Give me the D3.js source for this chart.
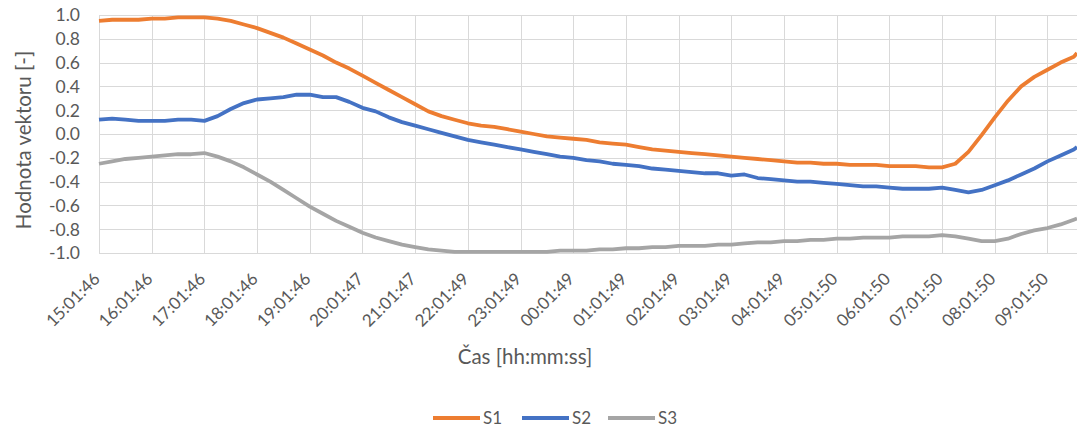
<!DOCTYPE html>
<html>
<head>
<meta charset="utf-8">
<script src="https://cdn.jsdelivr.net/npm/d3@7"></script>
<style>
  body { margin: 0; background: #fff; }
  svg { display: block; }
  text { font-family: Lato, "Open Sans", sans-serif; fill: #595959; }
</style>
</head>
<body>
<div id="chart"></div>
<script>
// hours since 15:01:46
const hours = [0, 0.25, 0.5, 0.75, 1, 1.25, 1.5, 1.75, 2, 2.25, 2.5, 2.75, 3, 3.25, 3.5, 3.75,
    4, 4.25, 4.5, 4.75, 5, 5.25, 5.5, 5.75, 6, 6.25, 6.5, 6.75, 7, 7.25, 7.5, 7.75,
    8, 8.25, 8.5, 8.75, 9, 9.25, 9.5, 9.75, 10, 10.25, 10.5, 10.75, 11, 11.25, 11.5, 11.75,
    12, 12.25, 12.5, 12.75, 13, 13.25, 13.5, 13.75, 14, 14.25, 14.5, 14.75, 15, 15.25, 15.5, 15.75,
    16, 16.25, 16.5, 16.75, 17, 17.25, 17.5, 17.75, 18, 18.25, 18.5, 18.56];

const s1 = [0.95, 0.96, 0.96, 0.96, 0.97, 0.97, 0.98, 0.98, 0.98, 0.97, 0.95, 0.92, 0.89, 0.85, 0.81, 0.76,
    0.71, 0.66, 0.60, 0.55, 0.49, 0.43, 0.37, 0.31, 0.25, 0.19, 0.15, 0.12, 0.09, 0.07, 0.06, 0.04,
    0.02, 0.00, -0.02, -0.03, -0.04, -0.05, -0.07, -0.08, -0.09, -0.11, -0.13, -0.14, -0.15, -0.16, -0.17, -0.18,
    -0.19, -0.20, -0.21, -0.22, -0.23, -0.24, -0.24, -0.25, -0.25, -0.26, -0.26, -0.26, -0.27, -0.27, -0.27, -0.28,
    -0.28, -0.25, -0.15, -0.01, 0.14, 0.28, 0.40, 0.48, 0.54, 0.60, 0.65, 0.68];

const s2 = [0.12, 0.13, 0.12, 0.11, 0.11, 0.11, 0.12, 0.12, 0.11, 0.15, 0.21, 0.26, 0.29, 0.30, 0.31, 0.33,
    0.33, 0.31, 0.31, 0.27, 0.22, 0.19, 0.14, 0.10, 0.07, 0.04, 0.01, -0.02, -0.05, -0.07, -0.09, -0.11,
    -0.13, -0.15, -0.17, -0.19, -0.20, -0.22, -0.23, -0.25, -0.26, -0.27, -0.29, -0.30, -0.31, -0.32, -0.33, -0.33,
    -0.35, -0.34, -0.37, -0.38, -0.39, -0.40, -0.40, -0.41, -0.42, -0.43, -0.44, -0.44, -0.45, -0.46, -0.46, -0.46,
    -0.45, -0.47, -0.49, -0.47, -0.43, -0.39, -0.34, -0.29, -0.23, -0.18, -0.13, -0.11];

const s3 = [-0.25, -0.23, -0.21, -0.20, -0.19, -0.18, -0.17, -0.17, -0.16, -0.19, -0.23, -0.28, -0.34, -0.40, -0.47, -0.54,
    -0.61, -0.67, -0.73, -0.78, -0.83, -0.87, -0.90, -0.93, -0.95, -0.97, -0.98, -0.99, -0.99, -0.99, -0.99, -0.99,
    -0.99, -0.99, -0.99, -0.98, -0.98, -0.98, -0.97, -0.97, -0.96, -0.96, -0.95, -0.95, -0.94, -0.94, -0.94, -0.93,
    -0.93, -0.92, -0.91, -0.91, -0.90, -0.90, -0.89, -0.89, -0.88, -0.88, -0.87, -0.87, -0.87, -0.86, -0.86, -0.86,
    -0.85, -0.86, -0.88, -0.90, -0.90, -0.88, -0.84, -0.81, -0.79, -0.76, -0.72, -0.71];

const tickHours = [0, 1, 2, 3, 4, 5, 6, 7, 8, 9, 10, 11, 12, 13, 14, 15, 16, 17, 18];
const tickLabels = ["15:01:46", "16:01:46", "17:01:46", "18:01:46", "19:01:46", "20:01:47", "21:01:47",
    "22:01:49", "23:01:49", "00:01:49", "01:01:49", "02:01:49", "03:01:49", "04:01:49",
    "05:01:50", "06:01:50", "07:01:50", "08:01:50", "09:01:50"];
const yTicks = [1.0, 0.8, 0.6, 0.4, 0.2, 0.0, -0.2, -0.4, -0.6, -0.8, -1.0];

const seriesNames = ["S1", "S2", "S3"];
const seriesValues = [s1, s2, s3];
const colors = ["#ED7D31", "#4472C4", "#A5A5A5"];

const W = 1077, H = 430;
const svg = d3.select("#chart").append("svg")
    .attr("width", W)
    .attr("height", H);

const x = d3.scaleLinear().domain([0, 18.56]).range([99, 1077]);
const y = d3.scaleLinear().domain([-1, 1]).range([253, 15]);

// gridlines
svg.append("g")
    .selectAll("line")
    .data(yTicks)
    .enter().append("line")
    .attr("x1", 99).attr("x2", W)
    .attr("y1", d => Math.round(y(d)) + 0.5)
    .attr("y2", d => Math.round(y(d)) + 0.5)
    .attr("stroke", "#d9d9d9");

svg.append("g")
    .selectAll("line")
    .data(tickHours)
    .enter().append("line")
    .attr("x1", d => Math.round(x(d)) + 0.5)
    .attr("x2", d => Math.round(x(d)) + 0.5)
    .attr("y1", 15).attr("y2", 253)
    .attr("stroke", "#d9d9d9");

// y tick labels
svg.append("g")
    .selectAll("text")
    .data(yTicks)
    .enter().append("text")
    .attr("x", 80)
    .attr("y", d => y(d))
    .attr("dy", "0.36em")
    .attr("text-anchor", "end")
    .style("font-size", "17.5px")
    .text(d => d3.format(".1f")(d).replace("−", "-"));

// x tick labels, rotated
svg.append("g")
    .selectAll("text")
    .data(tickHours)
    .enter().append("text")
    .attr("text-anchor", "end")
    .attr("transform", d => `translate(${x(d) + 2},${280}) rotate(-45)`)
    .style("font-size", "17px")
    .text((d, i) => tickLabels[i]);

// lines
const line = d3.line()
    .x((d, i) => x(hours[i]))
    .y(d => y(d));

seriesValues.forEach((vals, k) => {
    svg.append("path")
        .datum(vals)
        .attr("fill", "none")
        .attr("stroke", colors[k])
        .attr("stroke-width", 3.8)
        .attr("stroke-linejoin", "round")
        .attr("d", line);
});

// axis titles
svg.append("text")
    .attr("transform", "translate(31,140) rotate(-90)")
    .attr("text-anchor", "middle")
    .style("font-size", "20.5px")
    .text("Hodnota vektoru [-]");

svg.append("text")
    .attr("x", 525)
    .attr("y", 364)
    .attr("text-anchor", "middle")
    .style("font-size", "20.5px")
    .text("Čas [hh:mm:ss]");

// legend
const legendX = [433, 522, 608];
seriesNames.forEach((name, k) => {
    const g = svg.append("g");
    g.append("line")
        .attr("x1", legendX[k]).attr("x2", legendX[k] + 47)
        .attr("y1", 418).attr("y2", 418)
        .attr("stroke", colors[k])
        .attr("stroke-width", 3.8);
    g.append("text")
        .attr("x", legendX[k] + 50)
        .attr("y", 424)
        .style("font-size", "17px")
        .text(name);
});
</script>
</body>
</html>
